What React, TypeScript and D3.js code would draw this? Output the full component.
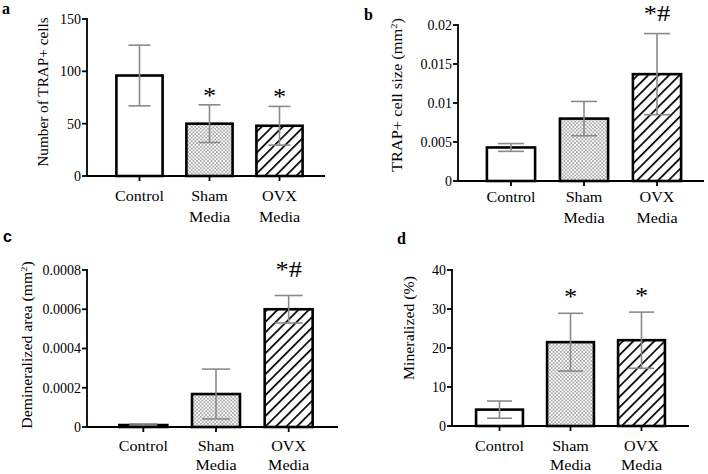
import React from "react";
import * as d3 from "d3";

const categories = ["Control", "Sham\nMedia", "OVX\nMedia"];

const trapCountMean = [96, 50, 48];
const trapCountSem = [29, 18, 18.5];
const trapCountTicks = [0, 50, 100, 150];
const trapCountAnnot = ["", "*", "*"];

const trapSizeMean = [0.0043, 0.008, 0.0137];
const trapSizeSem = [0.0005, 0.0022, 0.0052];
const trapSizeTicks = [0, 0.005, 0.01, 0.015, 0.02];
const trapSizeTickLabels = ["0", "0.005", "0.01", "0.015", "0.02"];
const trapSizeAnnot = ["", "", "*#"];

const deminMean = [0.00001, 0.000168, 0.0006];
const deminSem = [0.000005, 0.000127, 0.00007];
const deminTicks = [0, 0.0002, 0.0004, 0.0006, 0.0008];
const deminTickLabels = ["0", "0.0002", "0.0004", "0.0006", "0.0008"];
const deminAnnot = ["", "", "*#"];

const minMean = [4.2, 21.5, 22];
const minSem = [2.2, 7.4, 7.2];
const minTicks = [0, 10, 20, 30, 40];
const minAnnot = ["", "*", "*"];

const FONT = "'Liberation Serif', 'Times New Roman', serif";
const fills = ["#ffffff", "url(#dots)", "url(#hatch)"];

type PanelProps = {
  letter: string;
  letterX: number;
  letterY: number;
  letterFont?: string;
  axisX: number;
  y0: number;
  yTop: number;
  yMax: number;
  xRange: [number, number];
  axisEnd: number;
  means: number[];
  sems: number[];
  ticks: number[];
  tickLabels?: string[];
  annots: string[];
  annotGap: number;
  capHalf: number;
  catOffset: number;
  catLineGap: number;
  yLabel: React.ReactNode;
  yLabelX: number;
  yLabelY: number;
  yLabelStretch: number;
};

function Panel(p: PanelProps) {
  const y = d3.scaleLinear().domain([0, p.yMax]).range([p.y0, p.yTop]);
  const x = d3
    .scaleBand<string>()
    .domain(categories)
    .range(p.xRange)
    .paddingInner(0.34)
    .paddingOuter(0.17);
  const bw = x.bandwidth();
  return (
    <g>
      <text
        x={p.letterX}
        y={p.letterY}
        fontFamily={p.letterFont || FONT}
        fontWeight="bold"
        fontSize={16}
      >
        {p.letter}
      </text>
      {categories.map((c, i) => {
        const bx = x(c)!;
        const top = y(p.means[i]);
        return (
          <rect
            key={"b" + i}
            x={bx}
            y={top}
            width={bw}
            height={p.y0 - top}
            fill={fills[i]}
            stroke="#000"
            strokeWidth={2.6}
          />
        );
      })}
      {categories.map((c, i) => {
        const cx = x(c)! + bw / 2;
        const hi = y(p.means[i] + p.sems[i]);
        const lo = y(Math.max(0, p.means[i] - p.sems[i]));
        const cap = p.capHalf;
        return (
          <g key={"e" + i} stroke="#8a8a8a" strokeWidth={1.6}>
            <line x1={cx} x2={cx} y1={hi} y2={lo} />
            <line x1={cx - cap} x2={cx + cap} y1={hi} y2={hi} />
            <line x1={cx - cap} x2={cx + cap} y1={lo} y2={lo} />
          </g>
        );
      })}
      {categories.map((c, i) =>
        p.annots[i] ? (
          <text
            key={"a" + i}
            transform={`translate(${x(c)! + bw / 2},${
              y(p.means[i] + p.sems[i]) - p.annotGap
            }) scale(1.15,1)`}
            textAnchor="middle"
            fontFamily={FONT}
            fontSize={23}
          >
            {p.annots[i]}
          </text>
        ) : null
      )}
      <line x1={p.axisX} x2={p.axisX} y1={p.yTop - 1} y2={p.y0} stroke="#000" strokeWidth={1.8} />
      {p.ticks.map((t, i) => (
        <g key={"t" + i}>
          <line x1={p.axisX - 5} x2={p.axisX} y1={y(t)} y2={y(t)} stroke="#000" strokeWidth={1.8} />
          <text
            x={p.axisX - 6}
            y={y(t)}
            dy="0.35em"
            textAnchor="end"
            fontFamily={FONT}
            fontSize={14}
          >
            {p.tickLabels ? p.tickLabels[i] : String(t)}
          </text>
        </g>
      ))}
      <line x1={p.axisX} x2={p.axisEnd} y1={p.y0} y2={p.y0} stroke="#000" strokeWidth={2} />
      {categories.map((c, i) => {
        const cx = x(c)! + bw / 2;
        const lines = c.split("\n");
        return (
          <g key={"x" + i}>
            <line x1={cx} x2={cx} y1={p.y0} y2={p.y0 + 5} stroke="#000" strokeWidth={1.8} />
            {lines.map((l, j) => (
              <text
                key={j}
                transform={`translate(${cx},${p.y0 + p.catOffset + j * p.catLineGap}) scale(1.15,1)`}
                textAnchor="middle"
                fontFamily={FONT}
                fontSize={14}
              >
                {l}
              </text>
            ))}
          </g>
        );
      })}
      <text
        transform={`translate(${p.yLabelX},${p.yLabelY}) rotate(-90) scale(${p.yLabelStretch},1)`}
        textAnchor="middle"
        dy="0.35em"
        fontFamily={FONT}
        fontSize={14}
      >
        {p.yLabel}
      </text>
    </g>
  );
}

export default function App() {
  return (
    <svg
      width={708}
      height={474}
      style={{ position: "absolute", left: 0, top: 0, background: "#fff" }}
    >
      <defs>
        <pattern id="dots" width={3.6} height={3.6} patternUnits="userSpaceOnUse">
          <rect width={3.6} height={3.6} fill="#fbfbfb" />
          <circle cx={0.9} cy={0.9} r={0.85} fill="#8c8c8c" />
          <circle cx={2.7} cy={2.7} r={0.85} fill="#8c8c8c" />
        </pattern>
        <pattern
          id="hatch"
          width={7.4}
          height={7.4}
          patternUnits="userSpaceOnUse"
          patternTransform="rotate(45)"
        >
          <rect width={7.4} height={7.4} fill="#fff" />
          <line x1={0} y1={0} x2={0} y2={7.4} stroke="#000" strokeWidth={3.4} />
        </pattern>
      </defs>
      <Panel
        letter="a"
        letterX={2}
        letterY={14}
        axisX={87}
        y0={176}
        yTop={19}
        yMax={150}
        xRange={[104.5, 314.5]}
        axisEnd={325}
        means={trapCountMean}
        sems={trapCountSem}
        ticks={trapCountTicks}
        annots={trapCountAnnot}
        annotGap={2}
        capHalf={11}
        catOffset={25}
        catLineGap={20.5}
        yLabel="Number of TRAP+ cells"
        yLabelX={43}
        yLabelY={92}
        yLabelStretch={1.09}
      />
      <Panel
        letter="b"
        letterX={364}
        letterY={20}
        axisX={458}
        y0={181}
        yTop={25}
        yMax={0.02}
        xRange={[474.5, 693.5]}
        axisEnd={704}
        means={trapSizeMean}
        sems={trapSizeSem}
        ticks={trapSizeTicks}
        tickLabels={trapSizeTickLabels}
        annots={trapSizeAnnot}
        annotGap={13}
        capHalf={13}
        catOffset={21}
        catLineGap={20.5}
        yLabel={
          <>
            TRAP+ cell size (mm
            <tspan fontSize={9} dy="-5">2</tspan>
            <tspan dy="5">)</tspan>
          </>
        }
        yLabelX={397}
        yLabelY={95}
        yLabelStretch={1.17}
      />
      <Panel
        letter="c"
        letterX={3}
        letterY={242}
        letterFont="'Liberation Sans', Arial, sans-serif"
        axisX={87}
        y0={427}
        yTop={270}
        yMax={0.0008}
        xRange={[107, 325]}
        axisEnd={338}
        means={deminMean}
        sems={deminSem}
        ticks={deminTicks}
        tickLabels={deminTickLabels}
        annots={deminAnnot}
        annotGap={19}
        capHalf={14}
        catOffset={24}
        catLineGap={19}
        yLabel={
          <>
            Demineralized area (mm
            <tspan fontSize={9} dy="-5">2</tspan>
            <tspan dy="5">)</tspan>
          </>
        }
        yLabelX={27}
        yLabelY={345}
        yLabelStretch={1.13}
      />
      <Panel
        letter="d"
        letterX={397}
        letterY={244}
        axisX={452}
        y0={426}
        yTop={270}
        yMax={40}
        xRange={[464, 677]}
        axisEnd={689}
        means={minMean}
        sems={minSem}
        ticks={minTicks}
        annots={minAnnot}
        annotGap={9}
        capHalf={12.5}
        catOffset={25}
        catLineGap={19}
        yLabel="Mineralized (%)"
        yLabelX={409}
        yLabelY={328}
        yLabelStretch={1.13}
      />
    </svg>
  );
}
